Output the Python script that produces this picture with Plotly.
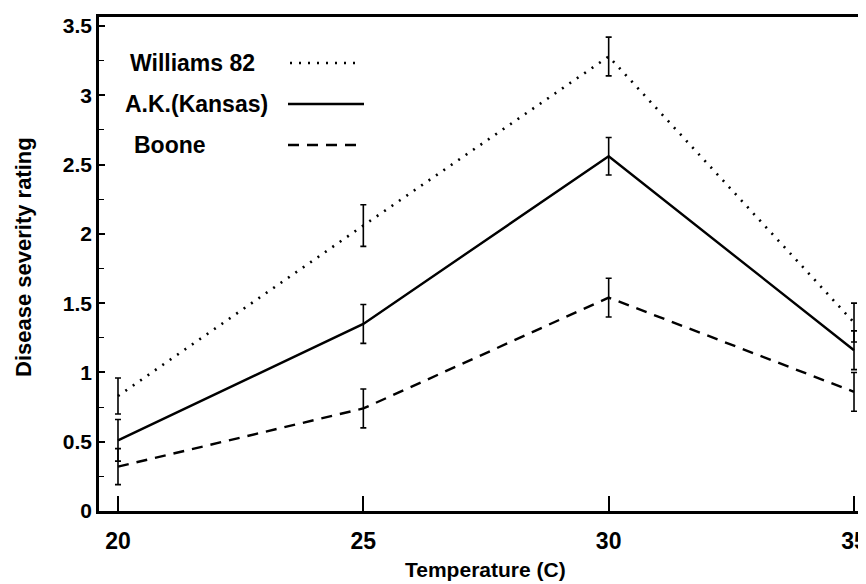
import plotly.graph_objects as go

temps = [20, 25, 30, 35]
williams = [0.83, 2.06, 3.28, 1.36]
williams_err = [0.13, 0.15, 0.14, 0.14]
ak = [0.51, 1.35, 2.56, 1.16]
ak_err = [0.15, 0.14, 0.135, 0.14]
boone = [0.32, 0.74, 1.54, 0.86]
boone_err = [0.13, 0.14, 0.14, 0.14]

series_names = ["Williams 82", "A.K.(Kansas)", "Boone"]
x_ticks = [20, 25, 30, 35]
y_ticks = [0, 0.5, 1, 1.5, 2, 2.5, 3, 3.5]
y_tick_labels = ["0", "0.5", "1", "1.5", "2", "2.5", "3", "3.5"]
x_title = "Temperature (C)"
y_title = "Disease severity rating"

FONT = "Liberation Sans, Arial, sans-serif"

fig = go.Figure()

styles = [
    dict(dash="2px,7px", width=2.6),
    dict(dash="solid", width=2.4),
    dict(dash="11px,8px", width=2.4),
]
vals = [(williams, williams_err), (ak, ak_err), (boone, boone_err)]
for name, (y, e), st in zip(series_names, vals, styles):
    fig.add_trace(go.Scatter(
        x=temps, y=y, mode="lines", name=name,
        line=dict(color="black", width=st["width"], dash=st["dash"]),
        error_y=dict(type="data", array=e, visible=True, color="black",
                     thickness=1.6, width=3),
        showlegend=False,
        cliponaxis=False,
    ))

# Legend drawn as text followed by line sample (screen-pixel positions -> paper)
W, H = 766, 494
L, B = 99, 511
leg_rows = [(63, 128, 290, 362), (104, 123, 288, 364), (145, 132, 288, 357)]
for name, st, (yc, xt, x0, x1) in zip(series_names, styles, leg_rows):
    yp = (B - yc) / H
    fig.add_annotation(xref="paper", yref="paper", x=(xt - L) / W, y=yp,
                       text=f"<b>{name}</b>", showarrow=False, xanchor="left",
                       yanchor="middle", font=dict(family=FONT, size=23, color="black"))
    fig.add_shape(type="line", xref="paper", yref="paper",
                  x0=(x0 - L) / W, x1=(x1 - L) / W, y0=yp, y1=yp,
                  line=dict(color="black", width=st["width"], dash=st["dash"]))

# Axis titles
fig.add_annotation(xref="paper", yref="paper", x=(485 - L) / W, y=(B - 569) / H,
                   text=f"<b>{x_title}</b>", showarrow=False, xanchor="center",
                   yanchor="middle", font=dict(family=FONT, size=21, color="black"))
fig.add_annotation(xref="paper", yref="paper", x=(23 - L) / W, y=(B - 257) / H,
                   text=f"<b>{y_title}</b>", showarrow=False, textangle=-90,
                   xanchor="center", yanchor="middle",
                   font=dict(family=FONT, size=22, color="black"))

# page body has an 8px margin, so the figure is offset by (8, 8) on screen
fig.update_layout(
    width=866, height=584,
    margin=dict(l=91, r=9, t=9, b=81, autoexpand=False),
    paper_bgcolor="white", plot_bgcolor="white",
    font=dict(family=FONT, color="black"),
)
fig.update_xaxes(
    range=[19.613, 35.224], tickvals=x_ticks,
    ticktext=[f"<b>{t}</b>" for t in x_ticks],
    tickfont=dict(family=FONT, size=23, color="black"),
    ticks="inside", ticklen=15, tickwidth=2, tickcolor="black",
    ticklabelstandoff=8,
    showline=True, linecolor="black", linewidth=2.5, mirror=True,
    showgrid=False, zeroline=False, automargin=False,
)
fig.update_yaxes(
    range=[0, 3.565], tickvals=y_ticks,
    ticktext=[f"<b>{t}</b>" for t in y_tick_labels],
    tickfont=dict(family=FONT, size=21, color="black"),
    ticks="inside", ticklen=6, tickwidth=1.5, tickcolor="black",
    minor=dict(dtick=0.25, ticks="inside", ticklen=5, tickwidth=1.2, tickcolor="black"),
    showline=True, linecolor="black", linewidth=2.5, mirror=True,
    showgrid=False, zeroline=False, automargin=False,
)

fig.write_html("out.html")
